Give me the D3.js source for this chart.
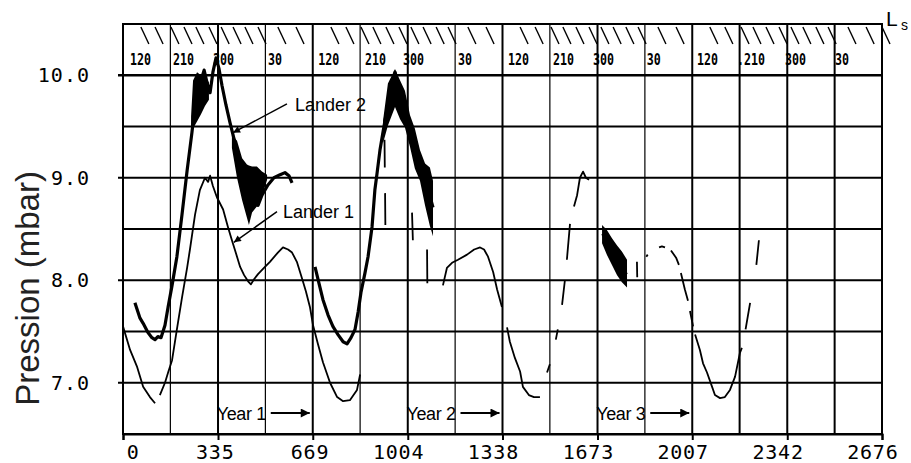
<!DOCTYPE html>
<html>
<head>
<meta charset="utf-8">
<script src="https://cdn.jsdelivr.net/npm/d3@7"></script>
<style>
  body { margin: 0; background: #fff; }
  svg { display: block; }
</style>
</head>
<body>
<svg id="chart" width="911" height="463"></svg>
<script>
// ---- data (sol, mbar) ; null = gap in record ----
var xTicks = [0, 335, 669, 1004, 1338, 1673, 2007, 2342, 2676];
var xGrid = [0, 167, 335, 502, 669, 836, 1004, 1171, 1338, 1505, 1673, 1840, 2007, 2174, 2342, 2509, 2676];
var yTicks = [7.0, 8.0, 9.0, 10.0];
var yGrid = [7.0, 7.5, 8.0, 8.5, 9.0, 9.5, 10.0];

// Ls (solar longitude) labels along the top band
var lsText = ["120", "210", "300", "30", "120", "210", "300", "30", "120", "210", "300", "30", "120", ".210", "300", "30"];
var lsSol = [25, 176, 317, 511, 688, 853, 987, 1181, 1357, 1516, 1657, 1847, 2024, 2165, 2334, 2510];
var lsHatch = [63, 113, 169, 215, 257, 303, 346, 388, 430, 476, 546, 610,
               733, 786, 839, 881, 927, 973, 1015, 1058, 1104, 1146, 1216, 1280,
               1400, 1453, 1509, 1551, 1597, 1643, 1685, 1728, 1773, 1816, 1886, 1950,
               2069, 2122, 2179, 2221, 2267, 2313, 2355, 2397, 2443, 2486, 2556, 2620, 2676];

var lander1 = [
  [0,7.55],[25,7.32],[49,7.16],[71,6.96],[95,6.86],[113,6.80], null,
  [130,6.88],[148,7.00],[159,7.10],[173,7.22],[190,7.52],[208,7.83],[226,8.12],[236,8.30],[254,8.64],
  [271,8.88],[289,9.00],[300,8.96],[307,9.02],[317,8.92],[331,8.81],[353,8.69],[370,8.52],[384,8.39],
  [402,8.23],[413,8.13],[427,8.05],[441,7.99],[451,7.96],[462,8.01],[476,8.06],[497,8.12],[518,8.18],
  [546,8.27],[564,8.32],[582,8.30],[596,8.27],[613,8.18],[631,8.02],[645,7.89],[659,7.74],[670,7.56],
  [688,7.37],[705,7.20],[730,7.00],[755,6.86],[776,6.82],[800,6.83],[825,6.93],[836,7.08], null,
  [922,9.37],[923,9.10], null,
  [924,8.85],[925,8.54], null,
  [1019,8.66],[1022,8.39], null,
  [1072,8.30],[1073,7.97], null,
  [1128,7.95],[1142,8.12],[1160,8.17],[1181,8.20],[1213,8.25],[1238,8.30],[1259,8.32],[1273,8.30],
  [1287,8.23],[1305,8.08],[1319,7.91],[1336,7.74], null,
  [1354,7.54],[1364,7.40],[1382,7.24],[1400,7.11],[1410,6.96],[1431,6.88],[1449,6.86],[1470,6.86], null,
  [1495,7.10],[1505,7.18], null,
  [1526,7.42],[1533,7.52], null,
  [1548,7.76],[1558,8.00], null,
  [1565,8.20],[1576,8.55], null,
  [1590,8.72],[1601,8.83],[1611,9.00],[1622,9.06],[1632,9.00],[1643,8.98], null,
  [1689,8.45],[1706,8.37],[1724,8.28],[1742,8.19],[1759,8.13],[1777,8.06], null,
  [1812,8.18],[1813,8.03], null,
  [1845,8.23],[1850,8.25], null,
  [1890,8.32],[1900,8.33],[1911,8.32], null,
  [1932,8.29],[1950,8.22],[1960,8.15], null,
  [1967,8.07],[1981,7.91],[1992,7.80], null,
  [1999,7.70],[2010,7.55], null,
  [2017,7.47],[2034,7.32],[2045,7.19],[2059,7.10],[2077,6.96],[2087,6.88],[2105,6.85],[2122,6.86],
  [2140,6.93],[2158,7.06],[2175,7.29],[2182,7.34], null,
  [2195,7.52],[2211,7.78], null,
  [2233,8.15],[2242,8.39]
];

var lander2 = [
  [42,7.78],[60,7.63],[71,7.58],[88,7.49],[102,7.44],[113,7.42],[123,7.45],[134,7.44],[148,7.56],
  [159,7.74],[173,7.95],[190,8.23],[208,8.64],[226,9.07],[243,9.44],[254,9.71],[264,9.87],[275,9.95],
  [286,10.05],[296,9.93],[307,9.83],[317,10.03],[328,10.17],[338,10.07],[349,9.90],[363,9.71],
  [377,9.54],[395,9.34],[413,9.17],[430,9.00],[448,8.86],[465,8.75],[476,8.73],[490,8.83],[511,8.93],
  [532,9.00],[554,9.03],[571,9.05],[585,9.02],[596,8.95], null,
  [677,8.13],[691,7.97],[705,7.81],[723,7.66],[740,7.55],[758,7.47],[776,7.40],[790,7.38],[804,7.44],
  [818,7.52],[829,7.69],[839,7.88],[853,8.07],[864,8.23],[878,8.52],[888,8.88],[896,9.05],[906,9.27],
  [917,9.45],[934,9.72],[948,9.85],[959,10.03],[977,9.81],[994,9.67],[1012,9.47],[1029,9.31],
  [1047,9.12],[1065,8.94],[1082,8.82],[1093,8.71]
];

// noisy stretches: [sol, low, high]
var lander2NoisePeak1 = [[240,9.38,9.60],[247,9.48,9.95],[261,9.55,10.03],[275,9.62,10.00],[289,9.70,9.99],[303,9.76,9.93]];
var lander2NoiseFall1 = [[384,9.29,9.42],[402,9.00,9.36],[420,8.78,9.19],[437,8.61,9.13],[444,8.54,9.12],
                         [455,8.66,9.11],[472,8.72,9.11],[490,8.82,9.06],[508,8.98,9.03]];
var lander2NoisePeak2 = [[917,9.34,9.56],[934,9.51,9.92],[959,9.69,10.06],[977,9.57,9.95],[994,9.49,9.85],
                         [1012,9.30,9.61],[1029,9.09,9.48],[1047,8.97,9.27],[1065,8.73,9.14],
                         [1082,8.53,9.10],[1093,8.43,8.97]];
var lander1NoiseFall3 = [[1689,8.36,8.54],[1706,8.25,8.49],[1724,8.15,8.41],[1742,8.05,8.34],
                         [1759,7.98,8.28],[1777,7.93,8.20]];

// annotations
var annoText = ["Lander 2", "Lander 1"];
var annoAt = [[606, 9.65], [564, 8.61]];
var annoFrom = [[578, 9.72], [543, 8.67]];
var annoTo = [[388, 9.44], [391, 8.37]];
var yearText = ["Year 1", "Year 2", "Year 3"];
var yearEnd = [669, 1338, 2007];

// ---- layout ----
var width = 911, height = 463;
var padding = { top: 24, right: 29, bottom: 29, left: 123 };
var monoFont = "'DejaVu Sans Mono', monospace";
var sansFont = "'Liberation Sans', Arial, sans-serif";

var svg = d3.select('#chart');

var x = d3.scaleLinear().domain([0, 2676]).range([padding.left, width - padding.right]);
var y = d3.scaleLinear().domain([6.5, 10.5]).range([height - padding.bottom, padding.top]);

var defs = svg.append('defs');
defs.append('marker').attr('id', 'headSmall')
  .attr('viewBox', '0 0 10 10').attr('refX', 10).attr('refY', 5)
  .attr('markerUnits', 'userSpaceOnUse').attr('markerWidth', 11).attr('markerHeight', 7)
  .attr('orient', 'auto')
  .append('path').attr('d', 'M0,0L10,5L0,10z').attr('fill', '#000');
defs.append('marker').attr('id', 'headBig')
  .attr('viewBox', '0 0 10 10').attr('refX', 10).attr('refY', 5)
  .attr('markerUnits', 'userSpaceOnUse').attr('markerWidth', 13).attr('markerHeight', 9)
  .attr('orient', 'auto')
  .append('path').attr('d', 'M0,0L10,5L0,10z').attr('fill', '#000');

// gridlines
svg.append('g').selectAll('line').data(yGrid).enter().append('line')
  .attr('x1', function(d) { return yTicks.indexOf(d) >= 0 ? x(0) - 5 : x(0); })
  .attr('x2', x(2676))
  .attr('y1', function(d) { return y(d); })
  .attr('y2', function(d) { return y(d); })
  .attr('stroke', '#000')
  .attr('stroke-width', function(d) { return d === 10.0 ? 2.6 : 2; });

svg.append('g').selectAll('line').data(xGrid).enter().append('line')
  .attr('x1', function(d) { return x(d); })
  .attr('x2', function(d) { return x(d); })
  .attr('y1', y(10.5))
  .attr('y2', y(6.5))
  .attr('stroke', '#000')
  .attr('stroke-width', function(d, i) { return (i % 2 === 0 || d > 2100) ? 2 : 1.2; });

// top Ls band
svg.append('line')
  .attr('x1', x(0)).attr('x2', x(2676)).attr('y1', y(10.5)).attr('y2', y(10.5))
  .attr('stroke', '#000').attr('stroke-width', 1.6);

svg.append('g').selectAll('line').data(lsHatch).enter().append('line')
  .attr('x1', function(d) { return x(d); })
  .attr('x2', function(d) { return x(d) + 8; })
  .attr('y1', y(10.5) + 3)
  .attr('y2', y(10.5) + 20)
  .attr('stroke', '#000').attr('stroke-width', 1.4);

svg.append('g').selectAll('text').data(lsText).enter().append('text')
  .attr('x', function(d, i) { return x(lsSol[i]); })
  .attr('y', y(10.5) + 41)
  .attr('font-family', monoFont)
  .attr('font-weight', 'bold')
  .attr('font-size', 16)
  .attr('textLength', function(d) { return d.length * 7; })
  .attr('lengthAdjust', 'spacingAndGlyphs')
  .text(function(d) { return d; });

svg.append('text').attr('x', 886).attr('y', 26)
  .attr('font-family', sansFont).attr('font-size', 21).text('L');
svg.append('text').attr('x', 901).attr('y', 30)
  .attr('font-family', sansFont).attr('font-size', 14).text('s');

// noise envelopes
var band = d3.area()
  .x(function(d) { return x(d[0]); })
  .y0(function(d) { return y(d[1]); })
  .y1(function(d) { return y(d[2]); });

[lander2NoisePeak1, lander2NoiseFall1, lander2NoisePeak2, lander1NoiseFall3].forEach(function(b) {
  svg.append('path').attr('d', band(b)).attr('fill', '#000');
});

// pressure records
var linePath = d3.line()
  .defined(function(d) { return d !== null; })
  .x(function(d) { return x(d[0]); })
  .y(function(d) { return y(d[1]); });

svg.append('path')
  .attr('d', linePath(lander2))
  .attr('fill', 'none').attr('stroke', '#000').attr('stroke-width', 3.2)
  .attr('stroke-linejoin', 'round');

svg.append('path')
  .attr('d', linePath(lander1))
  .attr('fill', 'none').attr('stroke', '#000').attr('stroke-width', 1.8)
  .attr('stroke-linejoin', 'round');

// frame
svg.append('rect')
  .attr('x', x(0)).attr('y', y(10.5))
  .attr('width', x(2676) - x(0)).attr('height', y(6.5) - y(10.5))
  .attr('fill', 'none').attr('stroke', '#000').attr('stroke-width', 2);

// axes
var xAxis = d3.axisBottom(x).tickValues(xTicks).tickSize(6).tickPadding(5)
  .tickFormat(function(d) { return String(d); });
var gx = svg.append('g')
  .attr('transform', 'translate(0,' + y(6.5) + ')')
  .call(xAxis);
gx.select('.domain').attr('stroke-width', 2);
gx.selectAll('.tick line').attr('stroke-width', 2);
gx.selectAll('.tick text')
  .attr('text-anchor', 'end').attr('dx', 16)
  .attr('font-family', monoFont).attr('font-size', 20).attr('letter-spacing', 0.8)
  .attr('fill', '#000');

var yAxis = d3.axisLeft(y).tickValues(yTicks).tickSize(0).tickPadding(33)
  .tickFormat(d3.format('.1f'));
var gy = svg.append('g')
  .attr('transform', 'translate(' + x(0) + ',0)')
  .call(yAxis);
gy.select('.domain').remove();
gy.selectAll('.tick text')
  .attr('font-family', monoFont).attr('font-size', 20).attr('letter-spacing', 1)
  .attr('fill', '#000');

svg.append('text')
  .attr('transform', 'translate(39,' + y(7.92) + ') rotate(-90)')
  .attr('text-anchor', 'middle')
  .attr('font-family', sansFont).attr('font-size', 33)
  .attr('fill', '#222')
  .text('Pression (mbar)');

// lander annotations
annoText.forEach(function(t, i) {
  svg.append('text')
    .attr('x', x(annoAt[i][0])).attr('y', y(annoAt[i][1]))
    .attr('font-family', sansFont).attr('font-size', 18).attr('fill', '#000')
    .text(t);
  svg.append('line')
    .attr('x1', x(annoFrom[i][0])).attr('y1', y(annoFrom[i][1]))
    .attr('x2', x(annoTo[i][0])).attr('y2', y(annoTo[i][1]))
    .attr('stroke', '#000').attr('stroke-width', 1.5)
    .attr('marker-end', 'url(#headSmall)');
});

// year arrows
yearText.forEach(function(t, i) {
  var tip = x(yearEnd[i]) - 3;
  svg.append('line')
    .attr('x1', tip - 39).attr('x2', tip)
    .attr('y1', y(6.5) - 21).attr('y2', y(6.5) - 21)
    .attr('stroke', '#000').attr('stroke-width', 2)
    .attr('marker-end', 'url(#headBig)');
  svg.append('text')
    .attr('x', tip - 44).attr('y', y(6.5) - 14)
    .attr('text-anchor', 'end')
    .attr('font-family', sansFont).attr('font-size', 18).attr('letter-spacing', -0.4)
    .attr('fill', '#000')
    .text(t);
});
</script>
</body>
</html>
